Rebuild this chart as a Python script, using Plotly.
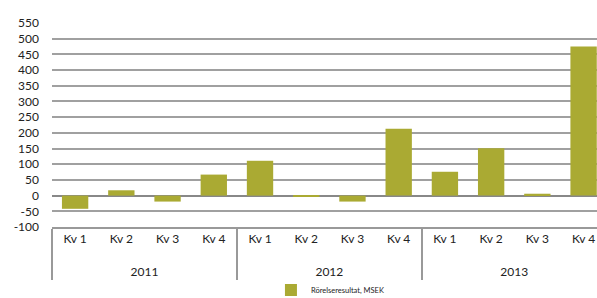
import plotly.graph_objects as go

years = ["2011"] * 4 + ["2012"] * 4 + ["2013"] * 4
quarters = ["Kv 1", "Kv 2", "Kv 3", "Kv 4"] * 3
values = [-42, 17, -19, 67, 111, -4, -19, 213, 76, 151, 6, 475]
series_name = "Rörelseresultat, MSEK"
y_ticks = list(range(-100, 551, 50))

FONT = "Lato, 'DejaVu Sans', sans-serif"

fig = go.Figure()
fig.add_trace(go.Bar(
    x=[["<br>" + y for y in years], quarters],
    y=values,
    name=series_name,
    marker=dict(color="#AAAA33", line=dict(width=0)),
    showlegend=True,
))

fig.update_layout(
    width=597,
    height=298,
    margin=dict(l=52, r=0, t=23, b=71, autoexpand=False),
    paper_bgcolor="white",
    plot_bgcolor="white",
    bargap=0.43,
    font=dict(family=FONT, size=12, color="#222"),
    showlegend=True,
    legend=dict(
        orientation="h",
        x=0.51, xanchor="center",
        y=-0.309, yanchor="middle",
        font=dict(size=7.5, color="#222"),
        itemwidth=30,
    ),
    xaxis=dict(
        type="multicategory",
        range=[-0.5, 11.29],
        automargin=False,
        showdividers=True,
        dividercolor="#999999",
        dividerwidth=1.5,
        showline=True,
        linecolor="#999999",
        linewidth=1.5,
        ticks="",
        tickfont=dict(size=12),
        showgrid=False,
    ),
    yaxis=dict(
        range=[-100, 550],
        automargin=False,
        tickvals=y_ticks,
        ticktext=[str(v) for v in y_ticks],
        showgrid=True,
        gridcolor="#A0A0A0",
        gridwidth=1.5,
        zeroline=True,
        zerolinecolor="#888888",
        zerolinewidth=2,
        showline=False,
        ticks="",
        ticklabelstandoff=12,
        tickfont=dict(size=12),
    ),
)

fig.write_html(
    "out.html",
    config={"displayModeBar": False},
    post_script="document.body.style.margin='0';document.body.style.overflow='hidden';",
)
